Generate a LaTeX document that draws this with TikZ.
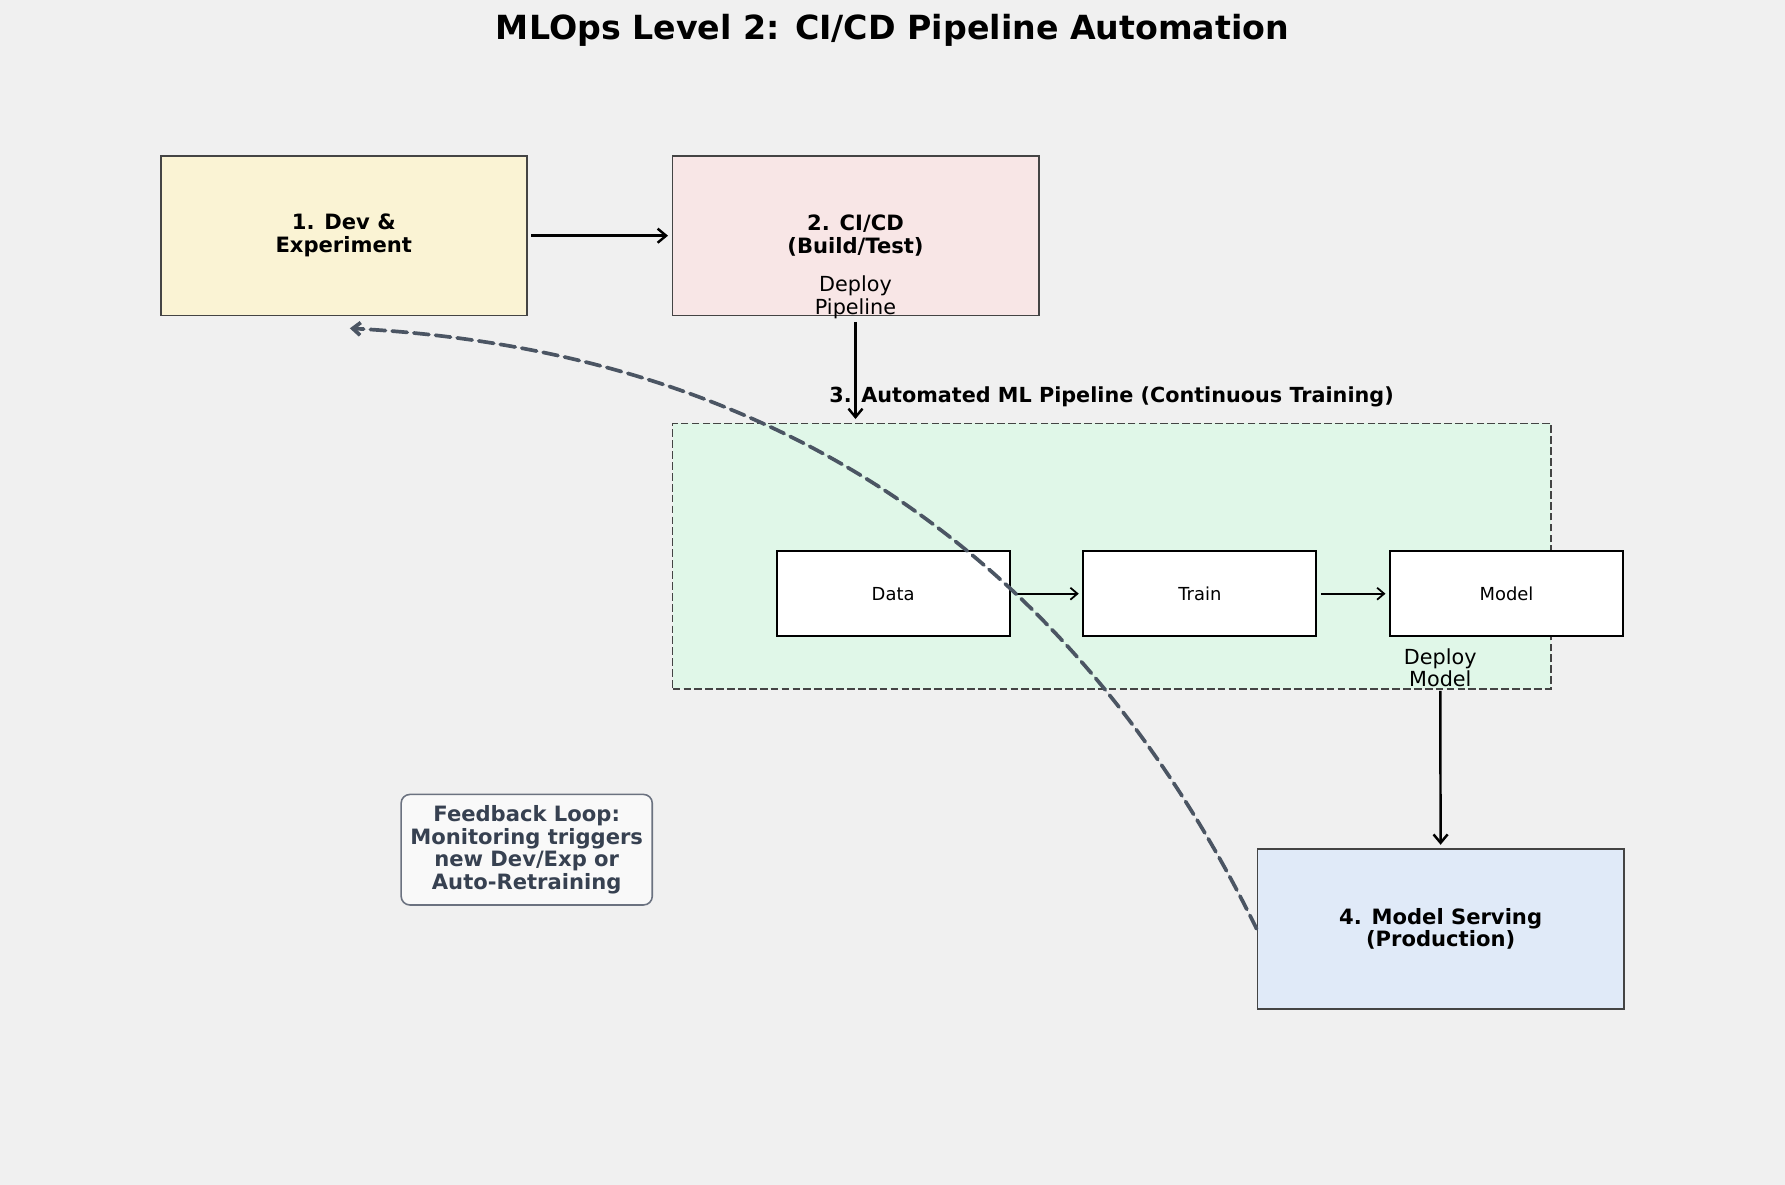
\documentclass[tikz,border=0pt]{standalone}
\usepackage{fontspec}
\setmainfont{DejaVu Sans}
\usetikzlibrary{positioning,arrows.meta}
\definecolor{bgcol}{HTML}{F0F0F0}
\definecolor{devfill}{HTML}{FAF3D4}
\definecolor{cicdfill}{HTML}{F8E6E6}
\definecolor{ctfill}{HTML}{E0F7E8}
\definecolor{servefill}{HTML}{E0EAF8}
\definecolor{edgegray}{HTML}{444444}
\definecolor{loopcol}{HTML}{4B5563}
\definecolor{notetext}{HTML}{374151}
\definecolor{noteedge}{HTML}{6B7280}
\tikzset{
    stage/.style = {
        draw = edgegray,
        line width = 0.5pt,
        minimum width = 3.66cm,
        minimum height = 1.594cm,
        align = center,
        font = \fontsize{6}{6.5}\selectfont\bfseries,
        },
    step box/.style = {
        draw,
        fill = white,
        line width = 0.55pt,
        minimum width = 2.33cm,
        minimum height = 0.85cm,
        font = \fontsize{5.1}{6}\selectfont,
        },
    pipeline/.style = {
        draw = edgegray,
        fill = ctfill,
        line width = 0.5pt,
        dash pattern = on 2.2pt off 0.9pt,
        minimum width = 8.777cm,
        minimum height = 2.652cm,
        },
    plain label/.style = {
        align = center,
        inner sep = 0.8pt,
        font = \fontsize{5.9}{6.5}\selectfont,
        },
    note/.style = {
        draw = noteedge,
        fill = white!60!bgcol,
        rounded corners = 2.5pt,
        line width = 0.45pt,
        text = notetext,
        align = center,
        minimum width = 2.51cm,
        minimum height = 1.105cm,
        inner sep = 0pt,
        font = \fontsize{6}{6.5}\selectfont\bfseries,
        },
    flow/.style = {
        -{Straight Barb[length=2.4pt,width=4pt]},
        line width = 0.7pt,
        shorten <= 1pt,
        shorten >= 1pt,
        },
    small flow/.style = {
        -{Straight Barb[length=2pt,width=3.4pt]},
        line width = 0.5pt,
        shorten <= 1pt,
        shorten >= 1pt,
        },
    loop/.style = {
        -{Straight Barb[length=2.2pt,width=3.6pt]},
        draw = loopcol,
        line width = 1.05pt,
        line cap = round,
        dash pattern = on 4.3pt off 1.9pt,
        },
}

\begin{document}
\begin{tikzpicture}[x=0.01cm, y=-0.01cm]
    \fill[bgcol] (0,0) rectangle (1785,1185);
    \useasboundingbox (0,0) rectangle (1785,1185);

    \node[font=\fontsize{9.45}{11}\selectfont\bfseries] (title) at (892.5,30) {MLOps Level 2: CI/CD Pipeline Automation};

    \node[stage, fill = devfill] (dev) at (343.8,235.7) {1. Dev \&\\Experiment};
    \node[stage, fill = cicdfill] (cicd) at (855.5,235.7) {2. CI/CD\\(Build/Test)};
    \node[pipeline] (ct) at (1111.7,556.1) {};
    \node[font=\fontsize{5.9}{7}\selectfont\bfseries] (cttitle) at (1111.5,397) {3. Automated ML Pipeline (Continuous Training)};
    \node[stage, fill = servefill] (serve) at (1440.6,928.9) {4. Model Serving\\(Production)};

    % steps inside the pipeline
    \node[step box] (data) at (893.1,593.7) {Data};
    \node[step box, right=0.716cm of data] (train) {Train};
    \node[step box, right=0.716cm of train] (model) {Model};

    \node[plain label] (deploypipe) at (855.5,297) {Deploy\\Pipeline};
    \node[plain label] (deploymodel) at (1440.3,667.8) {Deploy\\Model};

    \node[note] (feedback) at (526.7,849.7) {Feedback Loop:\\Monitoring triggers\\new Dev/Exp or\\Auto-Retraining};

    \draw[flow] (dev) -- (cicd);
    \draw[flow, shorten <= 0pt] (deploypipe.south) -- (ct.north -| deploypipe.south);
    \draw[small flow] (data) -- (train);
    \draw[small flow] (train) -- (model);
    \draw[flow, shorten <= 0pt] (deploymodel.south) -- (serve.north);
    % feedback arc back to dev
    \draw[loop] (serve.west) .. controls +(-185.6,-378.8) and +(419.8,22.3) .. ([shift={(6,12)}]dev.south);
\end{tikzpicture}
\end{document}
